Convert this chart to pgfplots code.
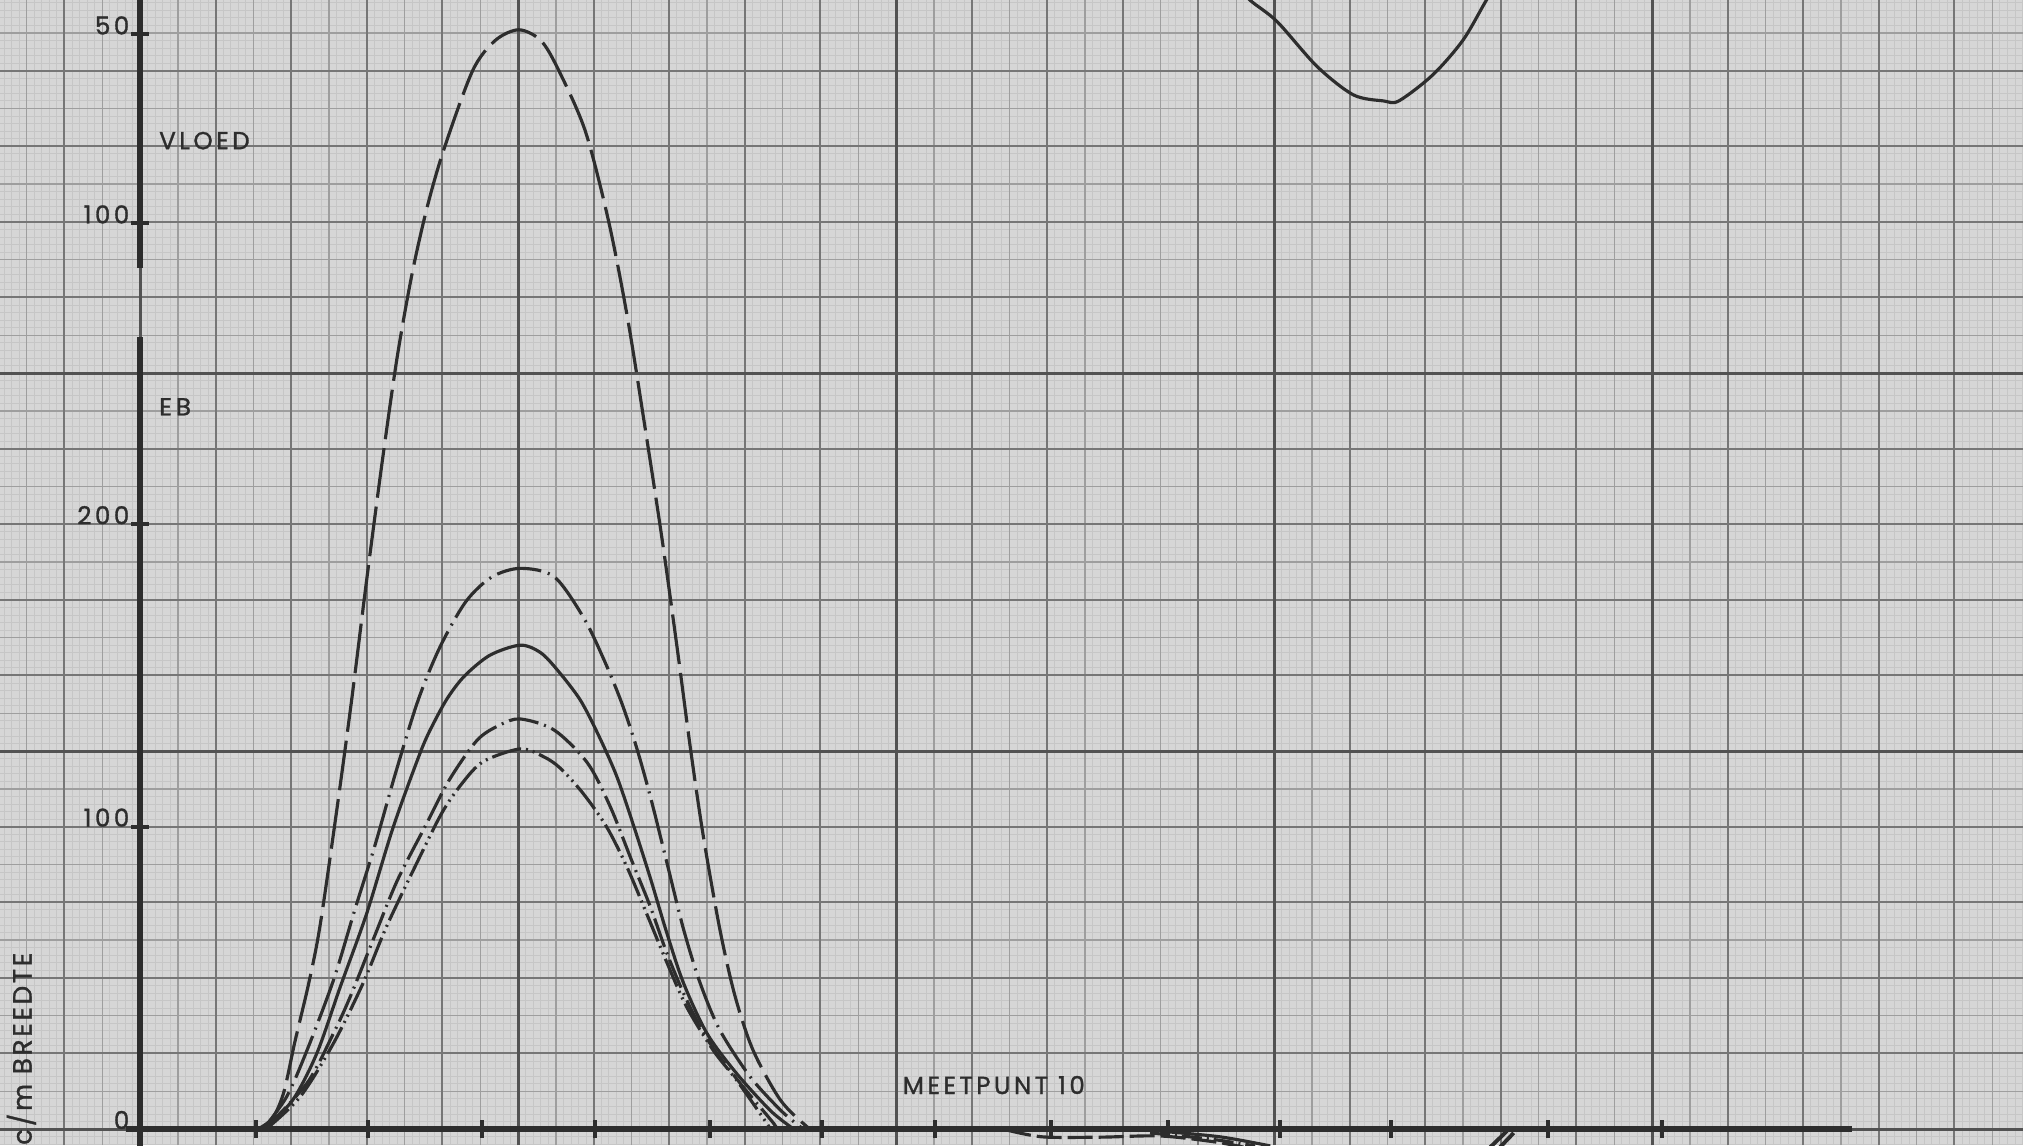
\documentclass[border=0pt]{standalone}
\usepackage{pgfplots}
\pgfplotsset{compat=1.18}
\usepackage{fontspec}
\setmainfont{Poppins}
\newfontfamily\lbl[LetterSpace=14, FakeBold=1.2]{Poppins}
\newfontfamily\lblr[LetterSpace=10, FakeBold=1.2]{Poppins}

\definecolor{paper}{RGB}{214,214,214}
\definecolor{ink}{RGB}{45,45,45}
\definecolor{gfine}{RGB}{198,198,198}
\definecolor{ghalf}{RGB}{158,158,158}
\definecolor{gmed}{RGB}{118,118,118}
\definecolor{gheavy}{RGB}{82,82,82}

\tikzset{lettering/.style={font=\lbl\fontsize{7}{8}\selectfont, text=ink, inner sep=0pt}}

% every axis covers the whole sheet; x in paper cm (mm for the grid)
\pgfplotsset{
  sheet/.style={
    scale only axis, width=20.23cm, height=11.45cm,
    at={(0,0)}, anchor=south west,
  },
  paper/.style={
    sheet, xmin=-18.52, xmax=249.07, ymin=-2.116, ymax=149.34,
    axis line style={draw=none}, xticklabels={}, yticklabels={},
    major tick length=0pt, grid=major,
  },
  data/.style={
    sheet, xmin=-1.852, xmax=24.907,
    axis line style={draw=none},
    tick align=outside, major tick length=0.18cm,
    every tick/.style={ink, line width=1.1pt},
    /pgf/number format/assume math mode=true,
    yticklabel style={font=\lbl\fontsize{7}{8}\selectfont, text=ink,
      anchor=base east, inner sep=0pt, xshift=-0.01cm},
  },
  curve/.style={ink, line width=0.9pt, smooth, no marks},
}

\begin{document}
\begin{tikzpicture}

% graph paper: 1 mm, 5 mm, 1 cm and 5 cm lines
\begin{axis}[paper, axis background/.style={fill=paper},
    xtick={-18,-17,...,249}, ytick={-2,-1,...,149},
    major grid style={gfine, line width=0.22pt}]
\end{axis}
\begin{axis}[paper,
    xtick={-15,-10,...,245}, ytick={0,5,...,145},
    major grid style={ghalf, line width=0.4pt}]
\end{axis}
\begin{axis}[paper,
    xtick={-10,0,...,240}, ytick={0,10,...,140},
    major grid style={gmed, line width=0.55pt}]
\end{axis}
\begin{axis}[paper,
    xtick={0,50,...,200}, ytick={0,50,100},
    major grid style={gheavy, line width=0.85pt}]
  \node[lettering, anchor=base west] at (axis cs:2.45,129.6) {VLOED};
  \node[lettering, anchor=base west] at (axis cs:2.45,94.4) {E\,B};
  \node[lettering, anchor=base west] at (axis cs:100.8,4.63) {MEETPUNT 10};
  \node[font=\lblr\fontsize{7.5}{8}\selectfont, text=ink, rotate=90, anchor=base east, inner sep=0pt]
    at (axis cs:-14.34,23.41) {c/m BREEDTE};
\end{axis}

% EB scale (upwards)
\begin{axis}[data, ymin=-5.291, ymax=373.35,
    axis lines=middle, hide obscured y ticks=false, hide obscured x ticks=false,
    xtick={1.534,3.016,4.524,6.019,7.540,9.020,10.516,12.050,13.600,15.080,16.550,18.620,20.130},
    xticklabels={}, ytick={0,100,200}]
  \addplot[ink, line width=1.7pt] coordinates {(-0.185,0) (22.646,0)};
  \addplot[ink, line width=1.7pt] coordinates {(0,-6) (0,261.9)};
  % long dashes
  \addplot[curve, dash pattern=on 0.5cm off 0.09cm] coordinates {
    (1.56,0) (1.75,3.5) (1.90,12) (2.05,29) (2.23,48) (2.38,67) (2.60,105)
    (2.80,142) (2.99,180) (3.20,220) (3.40,255) (3.60,283) (3.80,305)
    (4.02,324) (4.40,350) (4.70,360) (5.01,363.5) (5.30,360) (5.53,350.5)
    (5.89,330) (6.20,300) (6.45,268) (6.68,232) (6.90,196) (7.10,160)
    (7.28,126) (7.45,97) (7.67,66) (7.87,44) (8.11,26) (8.47,9.6) (8.82,0.8) (8.89,0)};
  % dash dot
  \addplot[curve, dash pattern=on 0.45cm off 0.07cm on 0.02cm off 0.07cm] coordinates {
    (1.63,0) (1.94,10.7) (2.21,26.1) (2.56,49.3) (2.84,72.4) (3.11,94)
    (3.38,117.7) (3.68,141.9) (3.97,159.5) (4.31,174.4) (4.65,182.5)
    (5.03,185.4) (5.48,182.6) (5.87,169.0) (6.14,155) (6.37,141)
    (6.57,126) (6.76,109) (6.97,88) (7.19,66) (7.41,48.2) (7.67,32.7)
    (8.07,17.3) (8.47,6.3) (8.73,0.8) (8.80,0)};
  % solid
  \addplot[curve] coordinates {
    (1.64,0) (2.02,9.6) (2.34,25.1) (2.65,47.1) (3.00,71.4) (3.35,99.9)
    (3.72,125.3) (3.90,135) (4.08,143) (4.30,150) (4.63,156.7) (5.03,160.0)
    (5.30,157.5) (5.53,151.5) (5.82,142) (6.05,131) (6.30,117) (6.52,101)
    (6.75,83) (6.97,64.7) (7.19,48.2) (7.50,31.6) (7.89,18.4) (8.33,6.3)
    (8.60,0.8) (8.65,0)};
  % shorter dash dot
  \addplot[curve, dash pattern=on 0.3cm off 0.06cm on 0.02cm off 0.06cm] coordinates {
    (1.65,0) (2.21,15.2) (2.56,31.7) (2.78,43.7) (3.09,63) (3.40,82)
    (3.77,100.0) (4.09,115.4) (4.46,128.6) (4.76,133.6) (5.03,135.6)
    (5.48,131.9) (5.92,121) (6.22,106.6) (6.50,89.0) (6.75,73.5)
    (6.97,58.1) (7.23,42.7) (7.54,28.3) (7.94,15.1) (8.38,1.9) (8.41,0)};
  % dash dot dot
  \addplot[curve, dash pattern=on 0.3cm off 0.05cm on 0.02cm off 0.05cm on 0.02cm off 0.05cm] coordinates {
    (1.67,0) (2.12,10.7) (2.56,28.4) (2.95,48.2) (3.26,66.9) (3.66,87.9)
    (3.99,104.4) (4.26,114.3) (4.54,121.5) (5.03,125.7) (5.34,123.1)
    (5.56,119.3) (5.86,111.0) (6.17,100.0) (6.44,86.7) (6.70,71.3)
    (6.97,55) (7.23,40.4) (7.58,26.1) (7.89,16.2) (8.29,1.9) (8.33,0)};
  % pieces of the next graph below the axis
  \addplot[curve, dash pattern=on 0.25cm off 0.06cm] coordinates {
    (11.46,-0.3) (11.94,-2.6) (12.70,-2.7) (13.49,-2.3) (14.20,-4.2) (14.60,-6)};
  \addplot[curve, dash pattern=on 0.2cm off 0.05cm on 0.02cm off 0.05cm] coordinates {
    (13.36,-1.3) (14.15,-3.3) (14.75,-5.6)};
  \addplot[curve] coordinates {(13.49,-0.7) (14.29,-2.6) (14.95,-5.6)};
  \addplot[ink, line width=1.1pt] coordinates {(18.08,-0.7) (17.86,-6)};
  \addplot[ink, line width=1.1pt] coordinates {(18.17,-1.3) (17.99,-6)};
\end{axis}

% VLOED scale (downwards)
\begin{axis}[data, y dir=reverse, ymin=40.9, ymax=343.8,
    axis y line=middle, axis x line=none, hide obscured y ticks=false,
    ytick={50,100}]
  \addplot[ink, line width=1.7pt] coordinates {(0,38) (0,111.8)};
  \addplot[curve] coordinates {
    (14.35,34.3) (14.68,40.9) (15.04,46.6) (15.57,58.5) (16.05,66.0)
    (16.45,67.6) (16.65,67.6) (17.10,60.7) (17.50,51.5) (17.81,40.9) (18.06,33.0)};
\end{axis}

\pgfresetboundingbox
\path[use as bounding box] (0,0) rectangle (20.23cm,11.45cm);
\end{tikzpicture}
\end{document}
